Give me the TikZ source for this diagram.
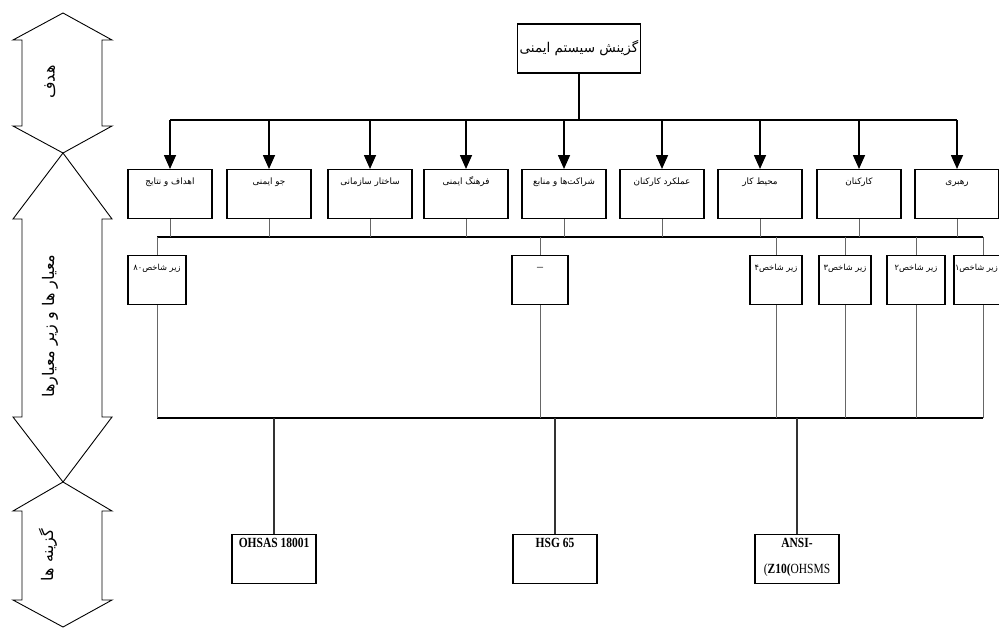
\documentclass[tikz,border=0pt]{standalone}
\usepackage{fontspec}
\setmainfont{Liberation Serif}
\newfontfamily\fa[Script=Arabic]{DejaVu Sans}
\TeXXeTstate=1
\usetikzlibrary{arrows.meta}
\tikzset{
  critbox/.style={draw, line width=1.2pt, fill=white, minimum width=84pt, minimum height=49pt,
    inner xsep=1pt, inner ysep=4pt, text height=11pt, text depth=30pt, anchor=north,
    font=\fa\fontsize{8.8}{10}\selectfont},
  subbox/.style={critbox, minimum width=56pt, font=\fa\fontsize{8.3}{10}\selectfont},
  plainbox/.style={draw, line width=1.2pt, minimum width=58pt, minimum height=49pt, anchor=north, inner sep=0pt},
  altbox/.style={draw, line width=1.2pt, minimum width=84pt, minimum height=49pt, anchor=north, inner sep=0pt},
  alttext/.style={anchor=north, inner sep=0pt, align=center, font=\fontsize{14}{26}\selectfont},
  titlebox/.style={draw, line width=1.3pt, minimum width=120pt, minimum height=49pt, inner sep=2pt,
    font=\fa\fontsize{13.5}{15}\selectfont},
  arr/.style={line width=1.6pt, -{Triangle[width=12pt,length=14pt]}},
  link/.style={line width=0.8pt, draw=black!60},
  busline/.style={line width=1.1pt},
  sidearrow/.style={draw, line width=0.9pt, fill=white},
  sidetext/.style={rotate=90, font=\fa\fontsize{16}{18}\selectfont, inner sep=0pt},
}
\begin{document}
\begin{tikzpicture}[x=1pt,y=-1pt]
\useasboundingbox (0,0) rectangle (999,627);
\clip (0,0) rectangle (999,627);
% side arrows
\draw[sidearrow] (63,13) -- (112,40) -- (102,40) -- (102,126) -- (112,126) -- (63,153) -- (13,126) -- (22,126) -- (22,40) -- (13,40) -- cycle;
\draw[sidearrow] (63,153) -- (112,219) -- (102,219) -- (102,417) -- (112,417) -- (63,482) -- (13,417) -- (22,417) -- (22,219) -- (13,219) -- cycle;
\draw[sidearrow] (63,482) -- (112,511) -- (102,511) -- (102,600) -- (112,600) -- (63,627) -- (13,600) -- (22,600) -- (22,511) -- (13,511) -- cycle;
\node[sidetext] (goal) at (50,82) {\beginR هدف\endR};
\node[sidetext] (crit) at (50,326) {\beginR معیار ها و زیر معیارها\endR};
\node[sidetext] (alts) at (48,555) {\beginR گزینه ها\endR};

% title
\node[titlebox] (title) at (579,48.5) {\beginR گزینش سیستم ایمنی\endR};
\coordinate (busL) at (170,120);
\coordinate (busR) at (957,120);
\draw[line width=1.8pt] (title.south) -- (title.south |- busL);
\draw[line width=1.8pt] (busL) -- (busR);

% criteria
\node[critbox] (r1) at (170,169) {\beginR اهداف و نتایج\endR};
\node[critbox] (r2) at (269,169) {\beginR جو ایمنی\endR};
\node[critbox] (r3) at (370,169) {\beginR ساختار سازمانی\endR};
\node[critbox] (r4) at (466,169) {\beginR فرهنگ ایمنی\endR};
\node[critbox] (r5) at (564,169) {\beginR شراکت‌ها و منابع\endR};
\node[critbox] (r6) at (662,169) {\beginR عملکرد کارکنان\endR};
\node[critbox] (r7) at (760,169) {\beginR محیط کار\endR};
\node[critbox] (r8) at (859,169) {\beginR کارکنان\endR};
\node[critbox] (r9) at (957,169) {\beginR رهبری\endR};
\foreach \n in {r1,r2,r3,r4,r5,r6,r7,r8,r9}
  \draw[arr] (\n.north |- busL) -- (\n.north);

% second bus
\coordinate (bus2L) at (157,237);
\coordinate (bus2R) at (983,237);
\draw[busline] (bus2L) -- (bus2R);
\foreach \n in {r1,r2,r3,r4,r5,r6,r7,r8,r9}
  \draw[link] (\n.south) -- (\n.south |- bus2L);

% sub criteria
\node[subbox, minimum width=58pt] (s80) at (157,255) {\beginR زیر شاخص۸۰\endR};
\node[subbox, font=\fontsize{12}{12}\selectfont] (sd) at (540,255) {–};
\node[subbox, minimum width=52pt] (s4) at (776,255) {\beginR زیر شاخص۴\endR};
\node[subbox, minimum width=52pt] (s3) at (845,255) {\beginR زیر شاخص۳\endR};
\node[subbox, minimum width=58pt] (s2) at (916,255) {\beginR زیر شاخص۲\endR};
\node[plainbox] (s1) at (983,255) {};
\node[anchor=base east, inner sep=0pt, font=\fa\fontsize{8.3}{10}\selectfont] (s1t) at (998,270) {\beginR زیر شاخص۱\endR};
\foreach \n in {s80,sd,s4,s3,s2,s1}
  \draw[link] (\n.north |- bus2L) -- (\n.north);

% third bus
\coordinate (bus3L) at (157,418);
\coordinate (bus3R) at (983,418);
\draw[busline] (bus3L) -- (bus3R);
\foreach \n in {s80,sd,s4,s3,s2,s1}
  \draw[link] (\n.south) -- (\n.south |- bus3L);

% alternatives
\node[altbox] (ohsas) at (274,534) {};
\node[altbox] (hsg) at (555,534) {};
\node[altbox] (ansi) at (797,534) {};
\node[alttext] (ohsast) at ([yshift=-4pt]ohsas.north) {\scalebox{0.82}[1]{\bfseries OHSAS 18001}};
\node[alttext] (hsgt) at ([yshift=-4pt]hsg.north) {\scalebox{0.82}[1]{\bfseries HSG 65}};
\node[alttext] (ansit) at ([yshift=-4pt]ansi.north) {\scalebox{0.82}[1]{\bfseries ANSI-}\\\scalebox{0.82}[1]{(\textbf{Z10(}OHSMS}};
\foreach \n in {ohsas,hsg,ansi}
  \draw[link, line width=1.1pt, draw=black!80] (\n.north |- bus3L) -- (\n.north);
\end{tikzpicture}
\end{document}
